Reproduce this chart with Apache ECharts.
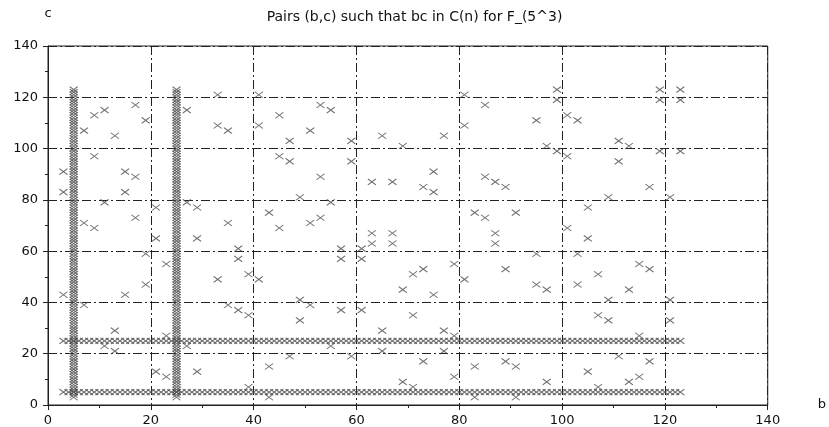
<!DOCTYPE html>
<html>
<head>
<meta charset="utf-8">
<script src="https://cdn.jsdelivr.net/npm/echarts@6/dist/echarts.min.js"></script>
<style>
  html, body { margin: 0; padding: 0; background: #fff; }
  #chart { width: 829px; height: 427px; }
</style>
</head>
<body>
<div id="chart"></div>
<script>
// the full rows (c = 5, 25) and full columns (b = 5, 25) run over every value of this span
const lineLevels = [5, 25]
const lineSpan = [
  3, 4, 5, 6, 7, 8, 9, 10, 11, 12, 13, 14, 15, 16, 17, 18, 19, 20, 21, 22,
  23, 24, 25, 26, 27, 28, 29, 30, 31, 32, 33, 34, 35, 36, 37, 38, 39, 40, 41, 42,
  43, 44, 45, 46, 47, 48, 49, 50, 51, 52, 53, 54, 55, 56, 57, 58, 59, 60, 61, 62,
  63, 64, 65, 66, 67, 68, 69, 70, 71, 72, 73, 74, 75, 76, 77, 78, 79, 80, 81, 82,
  83, 84, 85, 86, 87, 88, 89, 90, 91, 92, 93, 94, 95, 96, 97, 98, 99, 100, 101, 102,
  103, 104, 105, 106, 107, 108, 109, 110, 111, 112, 113, 114, 115, 116, 117, 118, 119, 120, 121, 122,
  123
]

// scattered pairs: b values and the c values found above each b
const pointB = [
  3, 7, 9, 11, 13, 15, 17, 19, 21, 23, 27, 29, 33, 35, 37, 39, 41, 43, 45, 47,
  49, 51, 53, 55, 57, 59, 61, 63, 65, 67, 69, 71, 73, 75, 77, 79, 81, 83, 85, 87,
  89, 91, 95, 97, 99, 101, 103, 105, 107, 109, 111, 113, 115, 117, 119, 121, 123
]
const pointC = [
  [91, 83, 43], [107, 71, 39], [113, 97, 69], [115, 79, 23], [105, 29, 21],
  [91, 83, 43], [117, 89, 73], [111, 59, 47], [77, 65, 13], [55, 27, 11],
  [115, 79, 23], [77, 65, 13], [121, 109, 49], [107, 71, 39], [61, 57, 37],
  [51, 35, 7], [121, 109, 49], [75, 15, 3], [113, 97, 69], [103, 95, 19],
  [81, 41, 33], [107, 71, 39], [117, 89, 73], [115, 79, 23], [61, 57, 37],
  [103, 95, 19], [61, 57, 37], [87, 67, 63], [105, 29, 21], [87, 67, 63],
  [101, 45, 9], [51, 35, 7], [85, 53, 17], [91, 83, 43], [105, 29, 21],
  [55, 27, 11], [121, 109, 49], [75, 15, 3], [117, 89, 73], [87, 67, 63],
  [85, 53, 17], [75, 15, 3], [111, 59, 47], [101, 45, 9], [123, 119, 99],
  [113, 97, 69], [111, 59, 47], [77, 65, 13], [51, 35, 7], [81, 41, 33],
  [103, 95, 19], [101, 45, 9], [55, 27, 11], [85, 53, 17], [123, 119, 99],
  [81, 41, 33], [123, 119, 99]
]

const titleText = 'Pairs (b,c) such that bc in C(n) for F_(5^3)'

const FONT = 'DejaVu Sans'
const INK = '#111'
const MARK = '#4a4a4a'
const GRIDLINE = { color: '#222', width: 1, type: [9, 3, 2, 3] }

const scatterData = []
pointB.forEach((b, i) => {
  pointC[i].forEach(c => scatterData.push([b, c]))
})
const lineData = []
lineLevels.forEach(level => {
  lineSpan.forEach(v => {
    lineData.push([v, level])
    lineData.push([level, v])
  })
})

const crossStyle = {
  symbol: 'path://M0,0L8,6M8,0L0,6',
  symbolSize: [8, 6],
  itemStyle: { color: 'transparent', borderColor: MARK, borderWidth: 1 }
}

const chart = echarts.init(document.getElementById('chart'), null, { renderer: 'canvas' })
chart.setOption({
  animation: false,
  backgroundColor: '#fff',
  title: {
    text: titleText,
    left: 'center',
    top: 5,
    textStyle: { fontFamily: FONT, fontSize: 14, fontWeight: 'normal', color: INK }
  },
  grid: {
    left: 48,
    right: 61,
    top: 46,
    bottom: 21,
    show: true,
    borderColor: '#222',
    borderWidth: 1
  },
  xAxis: {
    type: 'value',
    min: 0,
    max: 140,
    interval: 20,
    name: 'b',
    nameLocation: 'end',
    nameGap: 50,
    nameTextStyle: { fontFamily: FONT, fontSize: 13, color: INK, align: 'left', padding: [0, 0, 0, 0] },
    axisLine: { show: true, onZero: false, lineStyle: { color: '#222', width: 1 } },
    axisTick: { show: true, inside: false, length: 5, lineStyle: { color: '#222' } },
    minorTick: { show: true, splitNumber: 2, length: 3, lineStyle: { color: '#222' } },
    axisLabel: { fontFamily: FONT, fontSize: 13, color: INK, margin: 9 },
    splitLine: { show: true, lineStyle: GRIDLINE }
  },
  yAxis: {
    type: 'value',
    min: 0,
    max: 140,
    interval: 20,
    name: 'c',
    nameLocation: 'end',
    nameGap: 26,
    nameTextStyle: { fontFamily: FONT, fontSize: 13, color: INK, align: 'center' },
    axisLine: { show: true, onZero: false, lineStyle: { color: '#222', width: 1 } },
    axisTick: { show: true, inside: false, length: 5, lineStyle: { color: '#222' } },
    minorTick: { show: true, splitNumber: 2, length: 3, lineStyle: { color: '#222' } },
    axisLabel: { fontFamily: FONT, fontSize: 13, color: INK, margin: 10 },
    splitLine: { show: true, lineStyle: GRIDLINE }
  },
  series: [
    Object.assign({ name: 'lines', type: 'scatter', data: lineData, z: 3 }, crossStyle),
    Object.assign({ name: 'pairs', type: 'scatter', data: scatterData, z: 4 }, crossStyle)
  ]
})
</script>
</body>
</html>
